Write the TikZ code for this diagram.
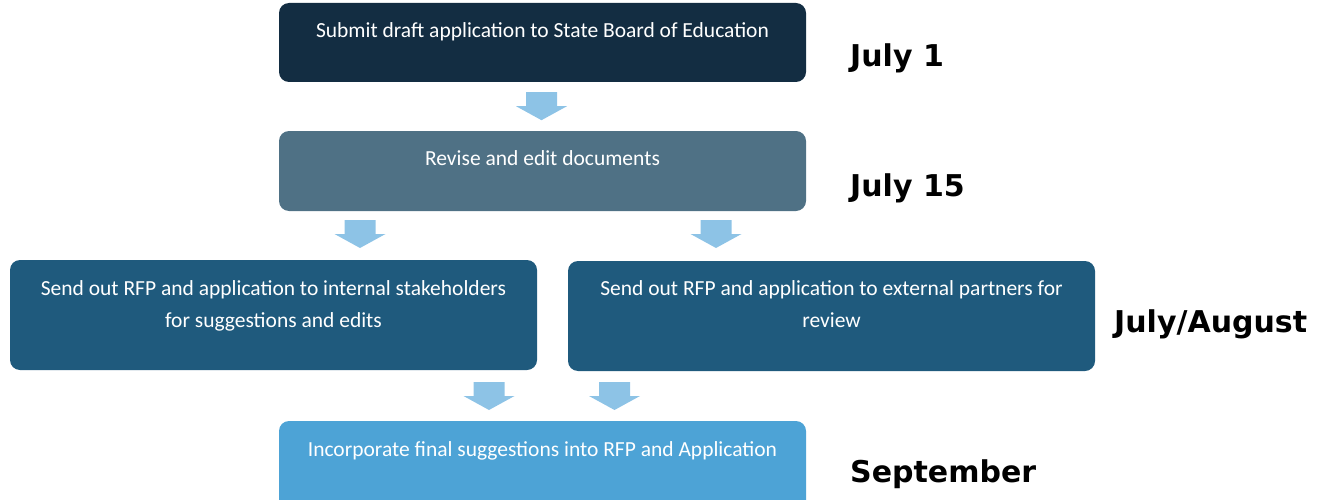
\documentclass[tikz,border=0pt]{standalone}
\usepackage{fontspec}
\setmainfont{Carlito}
\newfontfamily\datefont{DejaVu Sans}
\usetikzlibrary{calc}
\definecolor{stepnavy}{RGB}{19,45,66}
\definecolor{stepslate}{RGB}{79,113,133}
\definecolor{stepteal}{RGB}{31,90,125}
\definecolor{stepsky}{RGB}{77,163,214}
\definecolor{arrowblue}{RGB}{141,195,230}
\begin{document}
\begin{tikzpicture}[x=1pt,y=-1pt,
  stepbox/.style={rounded corners=10pt, minimum width=527pt, inner sep=0pt, draw=none},
  steptext/.style={text=white, font=\fontsize{21.5}{32}\selectfont, align=center, anchor=base, inner sep=0pt},
  datelabel/.style={font=\datefont\bfseries\fontsize{30}{34}\selectfont, anchor=base west, inner sep=0pt},
  downarrow/.pic={\fill[arrowblue] (-15.5,0) -- (15.5,0) -- (15.5,14) -- (25.5,14) -- (0,28) -- (-25.5,14) -- (-15.5,14) -- cycle;}]
\useasboundingbox (0,0) rectangle (1337,500);

% step boxes
\node[stepbox, fill=stepnavy, minimum height=79pt] (submit) at (542.5,42.5) {};
\node[stepbox, fill=stepslate, minimum height=80pt] (revise) at (542.5,171) {};
\node[stepbox, fill=stepteal, minimum height=110pt] (internal) at (273.5,315) {};
\node[stepbox, fill=stepteal, minimum height=110pt] (external) at (831.5,316) {};
\node[stepbox, fill=stepsky, minimum height=90pt] (final) at (542.5,466) {};

% box texts (anchored at the baseline of the last line)
\node[steptext] (submittext) at ($(submit.north)+(0,35)$) {Submit draft application to State Board of Education};
\node[steptext] (revisetext) at ($(revise.north)+(0,35)$) {Revise and edit documents};
\node[steptext] (internaltext) at ($(internal.north)+(0,67.5)$) {Send out RFP and application to internal stakeholders\\for suggestions and edits};
\node[steptext] (externaltext) at ($(external.north)+(0,66.5)$) {Send out RFP and application to external partners for\\review};
\node[steptext] (finaltext) at ($(final.north)+(0,36)$) {Incorporate final suggestions into RFP and Application};

% block arrows between the steps
\pic at ($(submit.south)+(-1,10)$) {downarrow};
\pic at (360,220) {downarrow};
\pic at (716,220) {downarrow};
\pic at (489,382) {downarrow};
\pic at (614.5,382) {downarrow};

% dates
\node[datelabel] (d1) at (850,67) {July 1};
\node[datelabel] (d2) at (850,196) {July 15};
\node[datelabel] (d3) at (1114,332) {July/August};
\node[datelabel] (d4) at (850,482) {September};
\end{tikzpicture}
\end{document}
